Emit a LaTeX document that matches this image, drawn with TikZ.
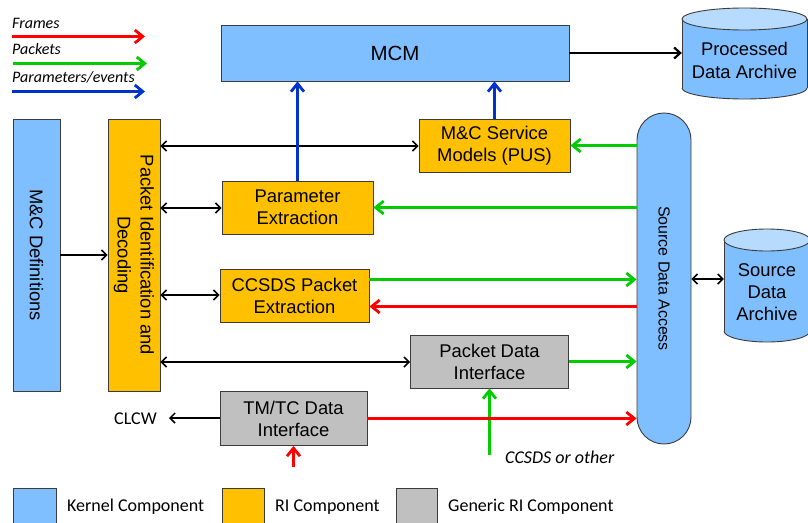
\documentclass[tikz,border=0pt]{standalone}
\usepackage{fontspec}
\setmainfont{Liberation Sans}
\newfontfamily\calfont{Carlito}
\usetikzlibrary{arrows.meta}
\definecolor{kblue}{RGB}{128,191,255}
\definecolor{kbluetop}{RGB}{182,219,255}
\definecolor{ryel}{RGB}{255,192,0}
\definecolor{ggray}{RGB}{192,192,192}
\definecolor{bord}{RGB}{60,60,60}
\definecolor{fred}{RGB}{255,0,0}
\definecolor{pgreen}{RGB}{0,204,0}
\definecolor{pblue}{RGB}{0,51,204}
\begin{document}
\begin{tikzpicture}[x=1pt,y=-1pt,
 box/.style={draw=bord, line width=0.9pt, inner sep=0pt, align=center,
   font=\fontsize{18.4}{22}\selectfont},
 kbox/.style={box, fill=kblue},
 rbox/.style={box, fill=ryel},
 gbox/.style={box, fill=ggray},
 blk/.style={draw=black, line width=1.5pt, -{Straight Barb[length=5pt,width=10pt]}},
 blkb/.style={draw=black, line width=1.5pt, {Straight Barb[length=5pt,width=10pt]}-{Straight Barb[length=5pt,width=10pt]}},
 frm/.style={draw=fred, line width=2.8pt, -{Straight Barb[length=8pt,width=13pt]}},
 pkt/.style={draw=pgreen, line width=2.8pt, -{Straight Barb[length=8pt,width=13pt]}},
 prm/.style={draw=pblue, line width=2.8pt, -{Straight Barb[length=8pt,width=13pt]}},
 lgd/.style={font=\calfont\itshape\fontsize{16}{19}\selectfont, anchor=west, inner sep=0pt},
 caltext/.style={font=\calfont\fontsize{18}{21}\selectfont, inner sep=0pt},
 cyl/.style={draw=bord, line width=0.9pt}
]
\useasboundingbox (0,0) rectangle (808,522);
\clip (0,0) rectangle (808,522);
\fill[white] (0,0) rectangle (808,522);

% legend (arrows)
\node[lgd] (lfr) at (12,23) {Frames};
\node[lgd] (lpk) at (12,49) {Packets};
\node[lgd] (lpe) at (12,77) {Parameters/events};
\coordinate (fa1) at (12,36.5);  \coordinate (fa2) at (145,36.5);
\coordinate (pa1) at (13,63.5);  \coordinate (pa2) at (147,63.5);
\coordinate (ea1) at (12,91.5);  \coordinate (ea2) at (145,91.5);
\draw[frm] (fa1) -- (fa2);
\draw[pkt] (pa1) -- (pa2);
\draw[prm] (ea1) -- (ea2);

% cylinders
% Processed Data Archive
\fill[kblue] (682,19) rectangle (807,88);
\fill[kblue] (744.5,88) ellipse[x radius=62.5, y radius=11];
\draw[cyl] (682,19) -- (682,88);
\draw[cyl] (807,19) -- (807,88);
\begin{scope}
\clip (678,88) rectangle (812,102);
\draw[cyl] (744.5,88) ellipse[x radius=62.5, y radius=11];
\end{scope}
\filldraw[cyl, fill=kbluetop] (744.5,19) ellipse[x radius=62.5, y radius=11];
\node[inner sep=0pt, align=center, font=\fontsize{18.4}{23}\selectfont,
  minimum width=125pt, minimum height=70pt] (pda) at (744.5,60) {Processed\\Data Archive};

% Source Data Archive
\fill[kblue] (724,240) rectangle (810,331);
\fill[kblue] (767,331) ellipse[x radius=43, y radius=11];
\draw[cyl] (724,240) -- (724,331);
\draw[cyl] (810,240) -- (810,331);
\begin{scope}
\clip (720,331) rectangle (814,345);
\draw[cyl] (767,331) ellipse[x radius=43, y radius=11];
\end{scope}
\filldraw[cyl, fill=kbluetop] (767,240) ellipse[x radius=43, y radius=11];
\node[inner sep=0pt, align=center, font=\fontsize{18.4}{22}\selectfont,
  minimum width=86pt, minimum height=80pt] (sdar) at (767,292) {Source\\Data\\Archive};

% boxes
\node[kbox, minimum width=348pt, minimum height=56pt, font=\fontsize{20.5}{24}\selectfont] (mcm) at (395,53) {MCM};
\node[rbox, minimum width=151pt, minimum height=53pt] (mcs) at (494.5,145.5) {M\&C Service\\Models (PUS)};
\node[rbox, minimum width=151pt, minimum height=53pt] (pe) at (297.5,207.5) {Parameter\\Extraction};
\node[rbox, minimum width=149pt, minimum height=53pt] (cpe) at (294.5,295.5) {CCSDS Packet\\Extraction};
\node[gbox, minimum width=158pt, minimum height=53pt] (pdi) at (489.5,361.5) {Packet Data\\Interface};
\node[gbox, minimum width=147pt, minimum height=54pt] (tmtc) at (293.5,418.5) {TM/TC Data\\Interface};
\node[kbox, rotate=-90, minimum width=272pt, minimum height=47pt] (mcd) at (36.5,255) {M\&C Definitions};
\node[rbox, rotate=-90, minimum width=272pt, minimum height=52pt, font=\fontsize{18.4}{23}\selectfont] (pid) at (134,255) {Packet Identification and\\Decoding};
\node[kbox, rotate=-90, minimum width=331pt, minimum height=54pt, rounded corners=26.9pt, font=\fontsize{16}{19}\selectfont] (sda) at (664,278.5) {Source Data Access};

% texts
\node[caltext, inner xsep=12pt] (clcw) at (135.5,418.5) {CLCW};
\node[caltext, font=\calfont\itshape\fontsize{18}{21}\selectfont, anchor=west] (oth) at (505,457) {CCSDS or other};
\coordinate (pdiin) at (489.5,455);
\coordinate (tmin) at (293.5,467);

% black connectors
\draw[line width=2.2pt, -{Straight Barb[length=6pt,width=11pt]}] (mcm.east |- 0,53) -- (pda.west |- 0,53);
\draw[blk] (mcd.north) -- (pid.south);
\draw[blkb] (pid.north |- 0,146) -- (mcs.west |- 0,146);
\draw[blkb] (pid.north |- 0,208) -- (pe.west |- 0,208);
\draw[blkb] (pid.north |- 0,295) -- (cpe.west |- 0,295);
\draw[blkb] (pid.north |- 0,362) -- (pdi.west |- 0,362);
\draw[blk] (tmtc.west |- 0,418) -- (clcw.east |- 0,418);
\draw[blkb] (sda.north |- 0,279) -- (sdar.west |- 0,279);

% parameters/events
\draw[prm] (pe.north) -- (mcm.south -| pe.north);
\draw[prm] (mcs.north) -- (mcm.south -| mcs.north);

% packets
\draw[pkt] (sda.south |- mcs.east) -- (mcs.east);
\draw[pkt] (sda.south |- pe.east) -- (pe.east);
\draw[pkt] (cpe.east |- 0,279.5) -- (sda.south |- 0,279.5);
\draw[pkt] (pdi.east) -- (sda.south |- pdi.east);
\draw[pkt] (pdiin) -- (pdi.south);

% frames
\draw[frm] (sda.south |- 0,306.5) -- (cpe.east |- 0,306.5);
\draw[frm] (tmtc.east) -- (sda.south |- tmtc.east);
\draw[frm] (tmin) -- (tmtc.south);

% legend (components)
\node[draw=bord, line width=0.9pt, fill=kblue, minimum width=43pt, minimum height=36pt, anchor=north west, inner sep=0pt] (lk) at (13,488) {};
\node[draw=bord, line width=0.9pt, fill=ryel, minimum width=42pt, minimum height=36pt, anchor=north west, inner sep=0pt] (lr) at (222,488) {};
\node[draw=bord, line width=0.9pt, fill=ggray, minimum width=41pt, minimum height=36pt, anchor=north west, inner sep=0pt] (lg) at (396,488) {};
\node[caltext, anchor=west] (tk) at (67,507) {Kernel Component};
\node[caltext, anchor=west] (tr) at (275,507) {RI Component};
\node[caltext, anchor=west] (tg) at (448,507) {Generic RI Component};
\end{tikzpicture}
\end{document}
